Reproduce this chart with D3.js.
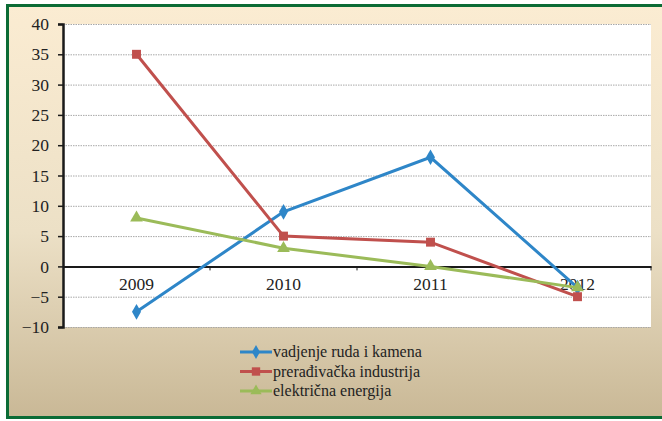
<!DOCTYPE html>
<html>
<head>
<meta charset="utf-8">
<script src="https://cdn.jsdelivr.net/npm/d3@7"></script>
<style>
body { margin: 0; padding: 0; background: #fff; }
svg { display: block; }
</style>
</head>
<body>
<script>
var years = ["2009", "2010", "2011", "2012"];
var seriesNames = ["vadjenje ruda i kamena", "prerađivačka industrija", "električna energija"];
var vadjenje = [-7.5, 9, 18, -3.5];
var preradjivacka = [35, 5, 4, -5];
var elektricna = [8, 3, 0, -3.5];
var yTicks = [-10, -5, 0, 5, 10, 15, 20, 25, 30, 35, 40];

var colors = ["#2e86c8", "#c0504d", "#9bbb59"];
var markers = [d3.symbolDiamond, d3.symbolSquare, d3.symbolTriangle];
var series = [vadjenje, preradjivacka, elektricna];

var totalWidth = 662, totalHeight = 421;
var margin = {top: 24, left: 63, right: 11, bottom: 94};
var width = totalWidth - margin.left - margin.right;
var height = totalHeight - margin.top - margin.bottom;
var serif = "'Liberation Serif'";

var svg = d3.select("body").append("svg")
    .attr("width", totalWidth)
    .attr("height", totalHeight);

var defs = svg.append("defs");
var grad = defs.append("linearGradient")
    .attr("id", "bg").attr("x1", 0).attr("y1", 0).attr("x2", 0).attr("y2", 1);
grad.append("stop").attr("offset", "0%").attr("stop-color", "#fbecd2");
grad.append("stop").attr("offset", "55%").attr("stop-color", "#ece0c6");
grad.append("stop").attr("offset", "100%").attr("stop-color", "#c9b896");

// frame
svg.append("rect")
    .attr("x", 7.5).attr("y", 5.5)
    .attr("width", 700).attr("height", 412)
    .attr("fill", "url(#bg)")
    .attr("stroke", "#0b6b35")
    .attr("stroke-width", 3);

var g = svg.append("g")
    .attr("transform", "translate(" + margin.left + "," + margin.top + ")");

g.append("rect")
    .attr("width", width).attr("height", height)
    .attr("fill", "#fff");

var xScale = d3.scaleBand().domain(years).range([0, width]);
var yScale = d3.scaleLinear().domain([-10, 40]).range([height, 0]);

// gridlines
g.append("g").selectAll("line")
    .data(yTicks)
    .enter().append("line")
    .attr("x1", 0).attr("x2", width)
    .attr("y1", function(d){ return yScale(d) + 0.5; })
    .attr("y2", function(d){ return yScale(d) + 0.5; })
    .attr("stroke", "#a8a8a8")
    .attr("stroke-width", 1)
    .attr("stroke-dasharray", "1.5,1");

// y axis
var yAxis = d3.axisLeft(yScale).tickValues(yTicks).tickSize(5).tickPadding(9);
var yAxisGroup = g.append("g").call(yAxis)
    .attr("font-family", serif).attr("font-size", 17.5);
yAxisGroup.select(".domain").attr("stroke", "#1a1a1a").attr("stroke-width", 2.5);
yAxisGroup.selectAll(".tick line").attr("stroke", "#1a1a1a").attr("stroke-width", 1.5);
yAxisGroup.selectAll("text").attr("fill", "#222");

// x axis at zero
var xAxis = d3.axisBottom(xScale).tickSize(0).tickPadding(11);
var xAxisGroup = g.append("g")
    .attr("transform", "translate(0," + yScale(0) + ")")
    .call(xAxis)
    .attr("font-family", serif).attr("font-size", 17.5);
xAxisGroup.select(".domain").attr("stroke", "#1a1a1a").attr("stroke-width", 2);
xAxisGroup.selectAll("text").attr("fill", "#222");
// category separator ticks
xAxisGroup.selectAll(".sep")
    .data(years.slice(1).concat(["end"]))
    .enter().append("line")
    .attr("x1", function(d, i){ return xScale.step() * (i + 1); })
    .attr("x2", function(d, i){ return xScale.step() * (i + 1); })
    .attr("y1", 0).attr("y2", 4)
    .attr("stroke", "#1a1a1a").attr("stroke-width", 1);

var line = d3.line()
    .x(function(d, i){ return xScale(years[i]) + xScale.bandwidth() / 2; })
    .y(function(d){ return yScale(d); });

series.forEach(function(s, k){
    g.append("path")
        .datum(s)
        .attr("fill", "none")
        .attr("stroke", colors[k])
        .attr("stroke-width", 3)
        .attr("d", line);
    g.selectAll(".m" + k)
        .data(s)
        .enter().append("path")
        .attr("transform", function(d, i){
            return "translate(" + (xScale(years[i]) + xScale.bandwidth() / 2) + "," + yScale(d) + ")";
        })
        .attr("d", d3.symbol().type(markers[k]).size(k == 1 ? 80 : 70))
        .attr("fill", colors[k]);
});

// legend
var legend = svg.append("g").attr("transform", "translate(240,352)");
seriesNames.forEach(function(name, k){
    var row = legend.append("g").attr("transform", "translate(0," + (k * 19.5) + ")");
    row.append("line")
        .attr("x1", 0).attr("x2", 32)
        .attr("stroke", colors[k]).attr("stroke-width", 3);
    row.append("path")
        .attr("transform", "translate(16,0)")
        .attr("d", d3.symbol().type(markers[k]).size(k == 1 ? 70 : 55))
        .attr("fill", colors[k]);
    row.append("text")
        .attr("x", 33).attr("y", 5)
        .attr("font-family", serif)
        .attr("font-size", 16)
        .attr("fill", "#222")
        .text(name);
});
</script>
</body>
</html>
